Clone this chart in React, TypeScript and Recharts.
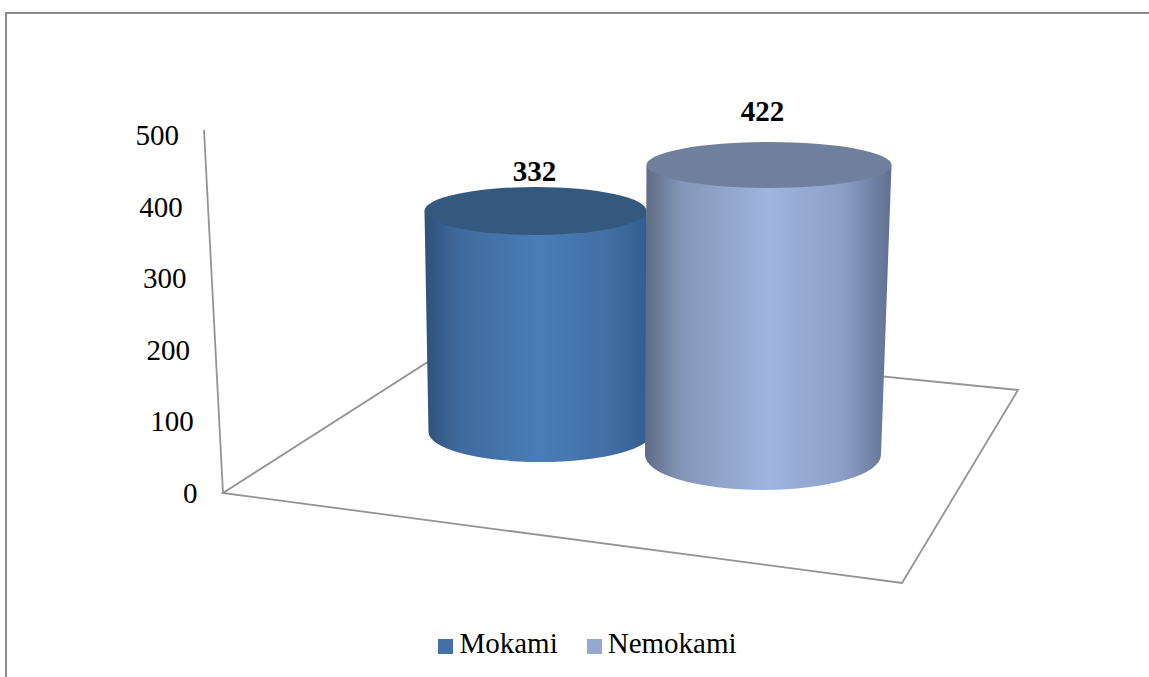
import { Bar, BarChart, Customized, LabelList, Legend, XAxis, YAxis } from "recharts";

const categories = ["Prisegimas"];
const mokamiValues = [332];
const nemokamiValues = [422];
const yTicks = [0, 100, 200, 300, 400, 500];

const chartData = categories.map((name, i) => ({
  name,
  Mokami: mokamiValues[i],
  Nemokami: nemokamiValues[i],
}));

const FONT = "'Liberation Serif', 'Times New Roman', serif";

// how each cylinder sits in the fake 3D view
const mokamiLook = {
  gradient: "mokamiSide",
  topFill: "#35587f",
  lift: 61,
  shrink: 0.93,
  topShift: 2.5,
  baseShift: 7.5,
  topRx: 111,
  baseRx: 112,
  topRy: 24,
  baseRy: 30,
  labelDx: -1,
  labelDy: 40,
};
const nemokamiLook = {
  gradient: "nemokamiSide",
  topFill: "#6f7f9e",
  lift: 38,
  shrink: 0.96,
  topShift: 3,
  baseShift: -3,
  topRx: 122.5,
  baseRx: 118,
  topRy: 23,
  baseRy: 35,
  labelDx: -6.5,
  labelDy: 54,
};

function cylinderShape(look: typeof mokamiLook) {
  return (props: any) => {
    const { x, y, width, height } = props;
    const cx = x + width / 2;
    const baseY = y + height - look.lift;
    const topY = baseY - height * look.shrink;
    const topCx = cx + look.topShift;
    const baseCx = cx + look.baseShift;
    const side = [
      `M${topCx - look.topRx},${topY}`,
      `L${baseCx - look.baseRx},${baseY}`,
      `A${look.baseRx},${look.baseRy} 0 0 0 ${baseCx + look.baseRx},${baseY}`,
      `L${topCx + look.topRx},${topY}`,
      "Z",
    ].join(" ");
    return (
      <g>
        <path d={side} fill={`url(#${look.gradient})`} />
        <ellipse cx={topCx} cy={topY} rx={look.topRx} ry={look.topRy} fill={look.topFill} />
      </g>
    );
  };
}

function valueLabel(look: typeof mokamiLook) {
  return (props: any) => {
    const { x, y, width, height, value } = props;
    const baseY = y + height - look.lift;
    const topY = baseY - height * look.shrink;
    return (
      <text
        x={x + width / 2 + look.topShift + look.labelDx}
        y={topY - look.labelDy}
        textAnchor="middle"
        dominantBaseline="central"
        fontFamily={FONT}
        fontSize={29}
        fontWeight="bold"
        fill="#000"
      >
        {value}
      </text>
    );
  };
}

// tick labels follow the leaning axis
function LeaningTick(props: any) {
  const { y, payload } = props;
  return (
    <text
      x={197.5 - payload.value * 0.037}
      y={y}
      textAnchor="end"
      dominantBaseline="central"
      fontFamily={FONT}
      fontSize={29}
      fill="#000"
    >
      {payload.value}
    </text>
  );
}

function Backdrop() {
  const line = { fill: "none", stroke: "#949494", strokeWidth: 1.8 };
  return (
    <g>
      <path d="M6,677 L6,13 L1149,13" {...line} stroke="#8a8a8a" strokeWidth={2} />
      <path d="M204,130 L223,493" {...line} />
      <path d="M223,493 L902,583 L1018,390 L470,335 Z" {...line} />
    </g>
  );
}

export default function App() {
  return (
    <div style={{ position: "absolute", left: 0, top: 0, width: 1149, height: 677, background: "#fff" }}>
      <BarChart
        width={1149}
        height={677}
        data={chartData}
        barSize={220}
        barGap={13}
        margin={{ top: 135, right: 55, bottom: 184, left: 100 }}
      >
        <defs>
          <linearGradient id="mokamiSide" x1="0" y1="0" x2="1" y2="0">
            <stop offset="0%" stopColor="#2f5179" />
            <stop offset="15%" stopColor="#3f6a9e" />
            <stop offset="50%" stopColor="#4a7cb6" />
            <stop offset="80%" stopColor="#4270a6" />
            <stop offset="100%" stopColor="#305a8a" />
          </linearGradient>
          <linearGradient id="nemokamiSide" x1="0" y1="0" x2="1" y2="0">
            <stop offset="0%" stopColor="#5f6b84" />
            <stop offset="15%" stopColor="#8496b8" />
            <stop offset="50%" stopColor="#9fb5de" />
            <stop offset="80%" stopColor="#8c9fc6" />
            <stop offset="100%" stopColor="#5f7090" />
          </linearGradient>
        </defs>
        <Customized component={Backdrop} />
        <XAxis dataKey="name" hide />
        <YAxis
          width={104}
          domain={[0, 500]}
          ticks={yTicks}
          interval={0}
          axisLine={false}
          tickLine={false}
          tick={LeaningTick}
        />
        <Legend
          layout="horizontal"
          align="center"
          verticalAlign="middle"
          iconType="square"
          iconSize={15}
          wrapperStyle={{ top: 627, left: 55, width: 1094, fontFamily: FONT, fontSize: 29 }}
          formatter={(value: string) => <span style={{ color: "#000", marginLeft: 2, marginRight: 19 }}>{value}</span>}
        />
        <Bar dataKey="Mokami" fill="#4472a8" isAnimationActive={false} shape={cylinderShape(mokamiLook)}>
          <LabelList dataKey="Mokami" content={valueLabel(mokamiLook)} />
        </Bar>
        <Bar dataKey="Nemokami" fill="#94a8d0" isAnimationActive={false} shape={cylinderShape(nemokamiLook)}>
          <LabelList dataKey="Nemokami" content={valueLabel(nemokamiLook)} />
        </Bar>
      </BarChart>
    </div>
  );
}
